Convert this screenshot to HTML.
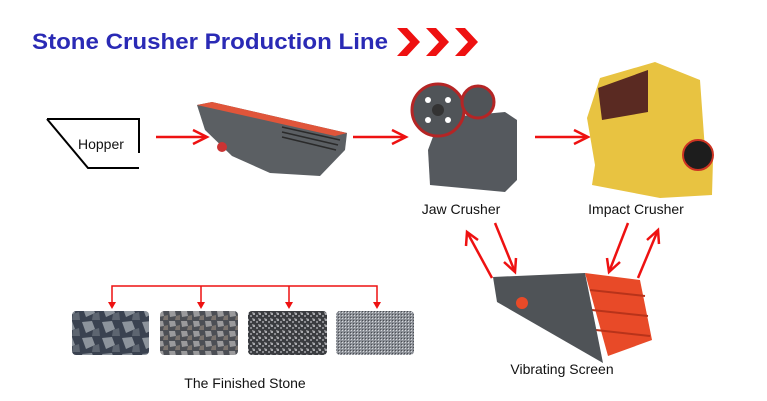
<!DOCTYPE html>
<html><head><meta charset="utf-8"><style>
html,body{margin:0;padding:0;background:#fff;}
svg{display:block;font-family:"Liberation Sans",sans-serif;}
</style></head><body>
<svg width="767" height="401" viewBox="0 0 767 401" xmlns="http://www.w3.org/2000/svg">
<defs>
<pattern id="p1" width="20" height="16" patternUnits="userSpaceOnUse"><rect width="20" height="16" fill="#3a4250"/><polygon points="2,2 12,1 15,9 6,13" fill="#8d949c"/><polygon points="13,10 19,8 20,16 12,16" fill="#5d6570"/></pattern>
<pattern id="p2" width="12" height="10" patternUnits="userSpaceOnUse"><rect width="12" height="10" fill="#4c4f55"/><polygon points="1,1 7,1 8,6 2,7" fill="#9a9a9c"/><polygon points="8,6 12,5 12,10 7,10" fill="#7a736e"/></pattern>
<pattern id="p3" width="6" height="6" patternUnits="userSpaceOnUse"><rect width="6" height="6" fill="#3a3c40"/><polygon points="0,0 3,1 3,3 1,3" fill="#a8a9ad"/><rect x="4" y="3" width="2" height="2" fill="#8a8b90"/></pattern>
<pattern id="p4" width="3" height="3" patternUnits="userSpaceOnUse"><rect width="3" height="3" fill="#8c9097"/><rect width="1" height="1" fill="#d8dadd"/><rect x="2" y="2" width="1" height="1" fill="#4a4d52"/></pattern>
</defs>

<text x="32" y="49" font-size="22" font-weight="bold" fill="#2a2ab5" textLength="356" lengthAdjust="spacingAndGlyphs">Stone Crusher Production Line</text>
<g fill="#ee1111">
<polygon points="397,28 407,28 420,42 407,56 397,56 410,42"/>
<polygon points="426,28 436,28 449,42 436,56 426,56 439,42"/>
<polygon points="455,28 465,28 478,42 465,56 455,56 468,42"/>
</g>

<polyline points="47,119 139,119 139,153" fill="none" stroke="#000" stroke-width="2"/>
<polyline points="47,119 88,168 139,168" fill="none" stroke="#000" stroke-width="2"/>
<text x="78" y="149" font-size="14" fill="#111">Hopper</text>

<g stroke="#ee1111" stroke-width="2.5" fill="none">
<line x1="156" y1="137" x2="205" y2="137"/><polyline points="193,130 207,137 193,144"/>
<line x1="353" y1="137" x2="404" y2="137"/><polyline points="392,130 406,137 392,144"/>
<line x1="535" y1="137" x2="586" y2="137"/><polyline points="574,130 588,137 574,144"/>
</g>

<!-- feeder -->
<polygon points="197,105 212,102 347,133 345,150 320,176 270,173 232,156 205,130" fill="#5b5f63"/>
<polygon points="197,105 212,102 347,133 335,136" fill="#e0553a"/>
<g stroke="#2a2a2a" stroke-width="1.5"><line x1="282" y1="127" x2="340" y2="140"/><line x1="282" y1="132" x2="338" y2="145"/><line x1="282" y1="137" x2="336" y2="150"/></g>
<circle cx="222" cy="147" r="5" fill="#c33"/>

<!-- jaw crusher -->
<polygon points="440,118 505,112 517,120 517,180 505,192 430,185 428,150" fill="#55595e"/>
<circle cx="438" cy="110" r="26" fill="#505458" stroke="#b52525" stroke-width="3"/>
<circle cx="438" cy="110" r="6" fill="#333"/>
<circle cx="478" cy="102" r="16" fill="#505458" stroke="#b52525" stroke-width="3"/>
<g fill="#fff"><circle cx="428" cy="100" r="3"/><circle cx="448" cy="100" r="3"/><circle cx="428" cy="120" r="3"/><circle cx="448" cy="120" r="3"/></g>
<text x="461" y="214" font-size="14" text-anchor="middle" fill="#111">Jaw Crusher</text>

<!-- impact crusher -->
<polygon points="600,78 655,62 700,80 705,150 713,160 712,195 660,198 592,185 595,165 587,118" fill="#e8c341"/>
<polygon points="598,88 648,70 648,112 602,120" fill="#5a2a22"/>
<circle cx="698" cy="155" r="15" fill="#1d1d1d" stroke="#c32" stroke-width="2"/>
<text x="636" y="214" font-size="14" text-anchor="middle" fill="#111">Impact Crusher</text>

<!-- loop arrows -->
<g stroke="#ee1111" stroke-width="2.5" fill="none">
<line x1="492" y1="278" x2="467" y2="232"/><polyline points="466,246 467,232 478,240"/>
<line x1="495" y1="223" x2="515" y2="272"/><polyline points="504,262 515,272 516,258"/>
<line x1="628" y1="223" x2="609" y2="272"/><polyline points="607,258 609,272 620,262"/>
<line x1="638" y1="278" x2="658" y2="230"/><polyline points="647,240 658,230 659,244"/>
</g>

<!-- vibrating screen -->
<polygon points="585,273 640,280 652,340 608,356" fill="#e84a28"/>
<g stroke="#b8331a" stroke-width="2"><line x1="590" y1="290" x2="645" y2="296"/><line x1="592" y1="310" x2="648" y2="316"/><line x1="596" y1="330" x2="650" y2="336"/></g>
<polygon points="493,277 585,273 603,363 497,302" fill="#4f5357"/>
<circle cx="522" cy="303" r="6" fill="#e84a28"/>
<text x="562" y="374" font-size="14" text-anchor="middle" fill="#111">Vibrating Screen</text>

<!-- finished stone -->
<g stroke="#ee1111" stroke-width="1.5" fill="none">
<polyline points="112,305 112,286 377,286 377,305"/>
<line x1="201" y1="286" x2="201" y2="305"/><line x1="289" y1="286" x2="289" y2="305"/>
</g>
<g fill="#ee1111">
<polygon points="108,302 116,302 112,309"/><polygon points="197,302 205,302 201,309"/><polygon points="285,302 293,302 289,309"/><polygon points="373,302 381,302 377,309"/>
</g>
<rect x="72" y="311" width="77" height="44" rx="4" fill="url(#p1)"/>
<rect x="160" y="311" width="78" height="44" rx="4" fill="url(#p2)"/>
<rect x="248" y="311" width="79" height="44" rx="4" fill="url(#p3)"/>
<rect x="336" y="311" width="78" height="44" rx="4" fill="url(#p4)"/>
<text x="245" y="388" font-size="14" text-anchor="middle" fill="#111">The Finished Stone</text>
</svg>
</body></html>
